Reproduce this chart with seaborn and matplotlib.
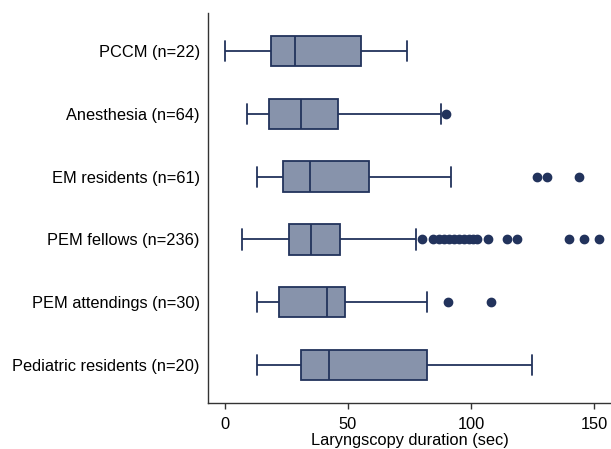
import pandas as pd
import matplotlib.pyplot as plt
import seaborn as sns

# Five-number summaries (seconds)
groups = ['PCCM (n=22)', 'Anesthesia (n=64)', 'EM residents (n=61)',
          'PEM fellows (n=236)', 'PEM attendings (n=30)', 'Pediatric residents (n=20)']
whisker_lo = [0.0, 9.1, 13.1, 7.0, 13.1, 13.1]
q1 = [18.7, 18.0, 23.6, 26.0, 22.1, 30.8]
median = [28.6, 31.0, 34.6, 35.0, 41.6, 42.3]
q3 = [55.3, 46.0, 58.4, 46.8, 48.7, 82.3]
whisker_hi = [74.0, 87.8, 92.0, 77.8, 82.0, 124.9]
outliers = [
    [],
    [90.0],
    [127.0, 131.0, 143.9],
    [80.0, 84.5, 87.0, 89.0, 91.0, 93.0, 95.0, 97.0, 99.0, 101.0, 102.5,
     106.9, 114.6, 118.6, 139.8, 145.9, 151.9],
    [90.8, 108.0],
    [],
]

# build a long table whose quartiles/whiskers reproduce the summaries above
rows = []
m = 30
for i, g in enumerate(groups):
    vals = [whisker_lo[i]] + [q1[i]] * m + [median[i]] * m + [q3[i]] * m + [whisker_hi[i]] + outliers[i]
    rows += [(g, v) for v in vals]
df = pd.DataFrame(rows, columns=['group', 'duration'])

sns.set_style('white')
plt.rcParams['font.family'] = ['Liberation Sans', 'DejaVu Sans']

fill = '#8793ab'
edge = '#22335c'
fs = 11.8

fig = plt.figure(figsize=(6.11, 4.49), dpi=100)
ax = fig.add_axes([0.3404, 0.1024, 0.6596, 0.8686])
sns.boxplot(data=df, x='duration', y='group', order=groups, orient='h',
            width=0.48, whis=1.5, color=fill, linecolor=edge, linewidth=1.3,
            saturation=1, fliersize=6, capwidths=0.32,
            flierprops=dict(marker='o', markerfacecolor=edge, markeredgecolor=edge),
            ax=ax)

ax.set_xlim(-6.9, 156.9)
ax.set_ylim(5.6, -0.6)
ax.set_xticks([0, 50, 100, 150])
ax.set_xlabel('Laryngscopy duration (sec)', fontsize=fs, color='black', labelpad=1)
ax.set_ylabel('')
ax.tick_params(axis='x', which='major', length=4, width=1, color='#333333',
               labelsize=fs, labelcolor='black', pad=6, bottom=True)
ax.tick_params(axis='y', length=0, labelsize=fs, labelcolor='black', pad=6)
for s in ['top', 'right']:
    ax.spines[s].set_visible(False)
for s in ['left', 'bottom']:
    ax.spines[s].set_color('#333333')
    ax.spines[s].set_linewidth(1)

plt.savefig('out.png', dpi=100)
